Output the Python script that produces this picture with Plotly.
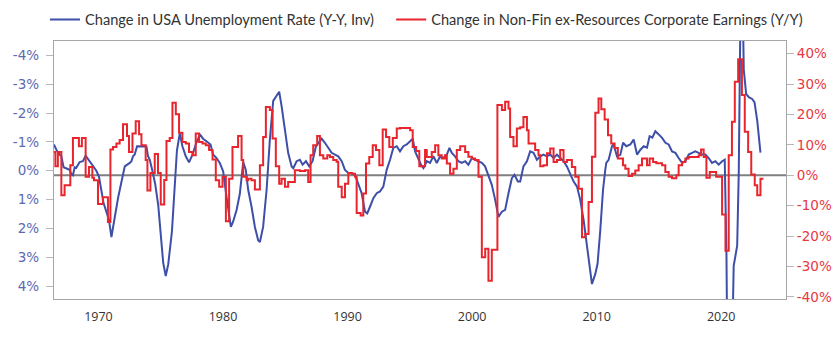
import plotly.graph_objects as go

# ---------------- data ----------------
blue_year = [1966.42, 1966.62, 1966.88, 1967.02, 1967.2, 1967.55, 1967.68, 1967.82, 1967.95, 1968.09, 1968.22, 1968.49, 1968.75, 1968.97, 1969.24, 1969.56, 1969.83, 1970.04, 1970.2, 1970.4, 1970.6, 1970.84, 1971.04, 1971.3, 1971.57, 1971.84, 1972.11, 1972.51, 1972.65, 1972.77, 1972.91, 1973.1, 1973.31, 1973.85, 1973.98, 1974.12, 1974.3, 1974.55, 1974.8, 1975.0, 1975.2, 1975.4, 1975.6, 1975.9, 1976.1, 1976.3, 1976.53, 1976.74, 1977.01, 1977.27, 1977.55, 1977.81, 1978.14, 1978.4, 1978.67, 1979.0, 1979.2, 1979.48, 1979.74, 1980.01, 1980.28, 1980.49, 1980.63, 1980.81, 1981.09, 1981.35, 1981.62, 1981.83, 1982.02, 1982.29, 1982.56, 1982.82, 1982.96, 1983.22, 1983.5, 1983.76, 1984.03, 1984.3, 1984.51, 1984.7, 1984.97, 1985.23, 1985.51, 1985.64, 1985.91, 1986.17, 1986.39, 1986.66, 1986.92, 1987.19, 1987.46, 1987.73, 1987.92, 1988.18, 1988.45, 1988.72, 1988.99, 1989.25, 1989.53, 1989.79, 1990.06, 1990.33, 1990.59, 1990.86, 1991.13, 1991.4, 1991.58, 1991.8, 1992.07, 1992.34, 1992.6, 1992.87, 1993.14, 1993.41, 1993.67, 1993.95, 1994.21, 1994.48, 1994.75, 1995.02, 1995.23, 1995.42, 1995.68, 1995.9, 1996.09, 1996.36, 1996.62, 1996.89, 1997.16, 1997.43, 1997.69, 1997.97, 1998.18, 1998.37, 1998.63, 1998.9, 1999.17, 1999.44, 1999.7, 1999.98, 2000.24, 2000.51, 2000.78, 2001.04, 2001.31, 2001.58, 2001.85, 2002.11, 2002.39, 2002.65, 2002.92, 2003.19, 2003.4, 2003.67, 2003.86, 2004.12, 2004.4, 2004.66, 2004.93, 2005.2, 2005.47, 2005.73, 2006.0, 2006.27, 2006.54, 2006.81, 2007.07, 2007.34, 2007.61, 2007.88, 2008.14, 2008.42, 2008.68, 2008.95, 2009.22, 2009.43, 2009.62, 2009.89, 2010.07, 2010.29, 2010.51, 2010.69, 2010.77, 2010.96, 2011.23, 2011.36, 2011.63, 2011.9, 2012.12, 2012.38, 2012.7, 2012.97, 2013.24, 2013.51, 2013.78, 2014.04, 2014.25, 2014.47, 2014.71, 2014.98, 2015.25, 2015.52, 2015.78, 2016.05, 2016.32, 2016.58, 2016.86, 2017.12, 2017.39, 2017.66, 2017.92, 2018.19, 2018.46, 2018.73, 2018.99, 2019.26, 2019.53, 2019.8, 2020.07, 2020.28, 2020.42, 2020.5, 2020.84, 2021.0, 2021.28, 2021.41, 2021.49, 2021.58, 2021.68, 2021.81, 2022.0, 2022.21, 2022.48, 2022.67, 2022.89, 2023.15]
blue_value = [-0.91, -0.73, -0.56, -0.5, -0.12, -0.06, -0.03, 0.12, 0.16, -0.12, -0.1, -0.3, -0.33, -0.52, -0.37, -0.18, 0.0, 0.2, 0.55, 1.1, 1.38, 1.7, 2.3, 1.6, 0.95, 0.4, -0.15, -0.27, -0.33, -0.5, -0.56, -0.85, -0.85, -0.84, -0.5, -0.38, -0.05, 0.45, 1.2, 2.2, 3.2, 3.65, 3.25, 2.1, 0.7, -0.7, -1.3, -0.85, -0.5, -0.29, -0.56, -0.91, -1.26, -1.11, -1.02, -0.91, -0.56, -0.44, -0.27, 0.02, 0.9, 1.6, 1.95, 1.77, 1.36, 0.8, -0.3, -0.03, 0.66, 1.25, 1.95, 2.41, 2.47, 1.95, 0.66, -1.08, -2.42, -2.6, -2.74, -2.25, -1.43, -0.62, -0.15, -0.09, -0.33, -0.38, -0.21, -0.33, -0.15, -0.33, -0.85, -1.02, -1.11, -0.97, -0.79, -0.62, -0.56, -0.5, -0.33, -0.03, 0.08, 0.08, 0.14, 0.43, 0.78, 1.42, 1.48, 1.25, 0.95, 0.78, 0.72, 0.55, -0.03, -0.38, -0.79, -0.85, -0.67, -0.85, -0.91, -1.02, -1.11, -0.67, -0.38, -0.2, -0.09, -0.33, -0.27, -0.5, -0.27, -0.5, -0.44, -0.56, -0.79, -0.62, -0.5, -0.33, -0.27, -0.33, -0.21, -0.44, -0.38, -0.33, -0.27, -0.15, 0.2, 0.49, 1.01, 1.6, 1.42, 1.36, 0.78, 0.26, 0.14, 0.37, 0.37, -0.15, -0.33, -0.67, -0.62, -0.38, -0.5, -0.56, -0.5, -0.56, -0.44, -0.56, -0.44, -0.33, -0.15, 0.14, 0.37, 0.55, 1.01, 1.71, 2.65, 3.46, 3.93, 3.58, 3.23, 2.06, 0.66, -0.03, -0.27, -0.38, -0.85, -0.91, -0.5, -0.55, -0.97, -0.85, -0.91, -1.08, -0.56, -0.73, -0.85, -0.8, -1.2, -1.15, -1.37, -1.26, -1.14, -0.97, -0.91, -0.67, -0.62, -0.44, -0.27, -0.33, -0.56, -0.62, -0.67, -0.62, -0.56, -0.56, -0.44, -0.27, -0.33, -0.21, -0.33, -0.38, 2.9, 7.0, 7.0, 3.3, 2.6, 0.0, -2.9, -7.0, -7.0, -3.5, -2.67, -2.55, -2.49, -2.38, -1.74, -0.63]

red_year = [1966.42, 1966.54, 1966.74, 1967.02, 1967.28, 1967.74, 1967.95, 1968.43, 1968.67, 1968.97, 1969.24, 1969.51, 1969.64, 1969.96, 1970.36, 1970.76, 1970.96, 1971.17, 1971.44, 1971.70, 1971.97, 1972.29, 1972.45, 1972.73, 1972.99, 1973.26, 1973.45, 1973.79, 1973.93, 1974.17, 1974.52, 1974.78, 1975.00, 1975.28, 1975.46, 1975.72, 1975.94, 1976.21, 1976.47, 1976.74, 1977.01, 1977.27, 1977.55, 1977.81, 1978.08, 1978.35, 1978.62, 1978.88, 1979.16, 1979.42, 1979.69, 1979.96, 1980.23, 1980.49, 1980.76, 1981.21, 1981.49, 1981.62, 1981.89, 1982.02, 1982.29, 1982.56, 1982.96, 1983.22, 1983.44, 1983.76, 1983.98, 1984.24, 1984.51, 1984.70, 1984.97, 1985.23, 1985.77, 1986.17, 1986.58, 1986.84, 1987.03, 1987.24, 1987.56, 1987.78, 1988.05, 1988.37, 1988.59, 1988.85, 1989.12, 1989.25, 1989.53, 1989.79, 1990.06, 1990.33, 1990.60, 1990.73, 1991.05, 1991.26, 1991.48, 1991.74, 1992.02, 1992.28, 1992.55, 1992.82, 1993.09, 1993.35, 1993.63, 1993.95, 1994.21, 1995.02, 1995.23, 1995.50, 1995.76, 1996.22, 1996.36, 1996.76, 1997.03, 1997.29, 1997.56, 1997.83, 1997.97, 1998.23, 1998.50, 1998.77, 1999.04, 1999.44, 1999.70, 1999.98, 2000.24, 2000.51, 2000.78, 2001.05, 2001.31, 2001.58, 2002.03, 2002.39, 2002.65, 2002.92, 2003.05, 2003.32, 2003.59, 2003.86, 2004.12, 2004.40, 2004.53, 2005.06, 2005.33, 2005.47, 2005.73, 2006.01, 2006.27, 2006.54, 2006.81, 2007.07, 2007.34, 2007.61, 2008.01, 2008.28, 2008.55, 2008.82, 2009.08, 2009.35, 2009.62, 2009.89, 2010.15, 2010.37, 2010.64, 2010.91, 2011.17, 2011.44, 2011.70, 2012.11, 2012.30, 2012.56, 2012.84, 2013.10, 2013.37, 2013.64, 2014.04, 2014.25, 2014.53, 2014.79, 2015.25, 2015.51, 2015.78, 2016.05, 2016.40, 2016.58, 2016.86, 2017.12, 2017.39, 2018.19, 2018.38, 2018.59, 2018.81, 2019.08, 2019.59, 2020.07, 2020.34, 2020.60, 2020.86, 2021.09, 2021.36, 2021.66, 2021.89, 2022.16, 2022.41, 2022.69, 2022.89, 2023.15, 2023.39]
red_value = [7.7, 3.0, 7.7, -6.6, -3.3, 3.3, 12.3, 9.6, 12.3, -0.5, 2.7, -0.8, -1.6, -9.4, -7.2, -15.4, 8.5, 9.3, 10.5, 11.6, 16.8, 12.9, 7.7, 13.8, 17.8, 13.5, 9.9, 5.0, -5.0, 0.8, 7.0, 0.8, -9.6, -1.5, 11.3, 12.3, 23.9, 20.1, 14.0, 11.0, 10.5, 7.7, 6.6, 13.8, 11.0, 10.5, 9.9, 8.3, 5.2, -1.65, -3.8, -0.5, -15.1, -1.1, 9.3, 12.9, 5.0, -0.5, -1.6, -1.1, -1.6, -4.7, 3.3, 12.6, 22.5, 21.5, 12.1, 3.0, -2.8, -1.1, -3.8, -2.2, 1.65, 1.4, 1.65, -2.2, 6.6, 9.9, 12.9, 6.6, 5.5, 6.6, 6.0, 5.0, 4.5, -3.8, -7.2, -2.8, 0.8, 0.5, -0.5, -12.4, -13.2, -6.0, 3.9, 6.0, 9.9, 8.3, 3.3, 15.1, 12.6, 9.3, 12.3, 15.4, 15.6, 14.8, 9.3, 8.0, 3.0, 8.3, 6.0, 7.7, 9.9, 6.6, 5.5, 6.6, 3.9, 0.5, 2.2, 8.3, 9.6, 7.7, 6.1, 5.5, 5.0, -0.5, -27.0, -24.2, -34.7, -24.5, 23.1, 21.5, 24.2, 22.0, 12.6, 9.6, 15.4, 15.8, 19.2, 14.8, 10.5, 8.3, 6.6, 3.0, 3.3, 7.3, 8.8, 4.4, 5.0, 8.3, 4.4, 5.0, 2.7, -0.5, -4.4, -20.4, -19.3, -8.8, 6.1, 20.6, 25.3, 21.7, 18.4, 13.2, 10.5, 9.0, 5.5, 3.3, 2.2, -0.2, 0.5, 1.6, 3.3, 5.5, 3.3, 5.5, 4.4, 4.0, 3.3, 1.1, -0.5, -1.0, 0.0, 3.3, 4.4, 5.5, 6.0, 6.6, 8.5, 6.0, -0.8, 1.1, -0.5, -12.9, -24.8, 6.6, 17.6, 30.8, 38.2, 26.4, 14.3, 7.7, 0.3, -3.3, -6.6, -1.1, -1.1]

x_tick_vals = [1970, 1980, 1990, 2000, 2010, 2020]
x_tick_text = ["1970", "1980", "1990", "2000", "2010", "2020"]
left_tick_vals = [-4, -3, -2, -1, 0, 1, 2, 3, 4]
left_tick_text = ["-4%", "-3%", "-2%", "-1%", "0%", "1%", "2%", "3%", "4%"]
right_tick_vals = [-40, -30, -20, -10, 0, 10, 20, 30, 40]
right_tick_text = ["-40%", "-30%", "-20%", "-10%", "0%", "10%", "20%", "30%", "40%"]

BLUE = "#3D4FA8"
RED = "#E8252D"
AXIS = "#A6A6A6"

fig = go.Figure()
fig.add_trace(go.Scatter(
    x=red_year, y=red_value, yaxis="y2", mode="lines",
    line=dict(color=RED, width=2, shape="hv"),
    name="Change in Non-Fin ex-Resources Corporate Earnings (Y/Y)",
    legend="legend2", hoverinfo="skip"))
fig.add_trace(go.Scatter(
    x=blue_year, y=blue_value, yaxis="y", mode="lines",
    line=dict(color=BLUE, width=2),
    name="Change in USA Unemployment Rate (Y-Y, Inv)",
    legend="legend", hoverinfo="skip"))

fig.add_shape(type="line", xref="paper", x0=0, x1=1, yref="y2", y0=0, y1=0,
              line=dict(color="#808080", width=2), layer="below")

legend_font = dict(family="Lato", size=14.6, color="#333333")
fig.update_layout(
    width=840, height=338,
    margin=dict(l=54, r=54, t=41, b=39, pad=0, autoexpand=False),
    paper_bgcolor="white", plot_bgcolor="white",
    showlegend=True,
    legend=dict(orientation="h", x=-0.0123, xanchor="left", y=1.083, yanchor="middle",
                font=legend_font, bgcolor="rgba(0,0,0,0)", itemwidth=30),
    legend2=dict(orientation="h", x=0.4606, xanchor="left", y=1.083, yanchor="middle",
                 font=legend_font, bgcolor="rgba(0,0,0,0)", itemwidth=30),
    xaxis=dict(range=[1966.43, 2025.2], tickvals=x_tick_vals, ticktext=x_tick_text,
               showgrid=False, zeroline=False, showline=True, mirror=True,
               linecolor=AXIS, linewidth=1.3, ticks="", ticklabelstandoff=6,
               tickfont=dict(family="Open Sans", size=12.5, color="#333333")),
    yaxis=dict(range=[4.45, -4.5], tickvals=left_tick_vals, ticktext=left_tick_text,
               showgrid=False, zeroline=False, showline=True, linecolor=AXIS, linewidth=1.3,
               ticks="outside", ticklen=7, tickcolor="#B8B8B8", tickwidth=1.3,
               ticklabelstandoff=4,
               tickfont=dict(family="DejaVu Sans", size=13.5, color="#5B69B3")),
    yaxis2=dict(range=[-40.7, 44.2], tickvals=right_tick_vals, ticktext=right_tick_text,
                overlaying="y", side="right",
                showgrid=False, zeroline=False, showline=True, linecolor=AXIS, linewidth=1.3,
                ticks="outside", ticklen=7, tickcolor="#B8B8B8", tickwidth=1.3,
                tickfont=dict(family="DejaVu Sans", size=13.5, color="#E8383F")),
)

fig.write_html("out.html")
